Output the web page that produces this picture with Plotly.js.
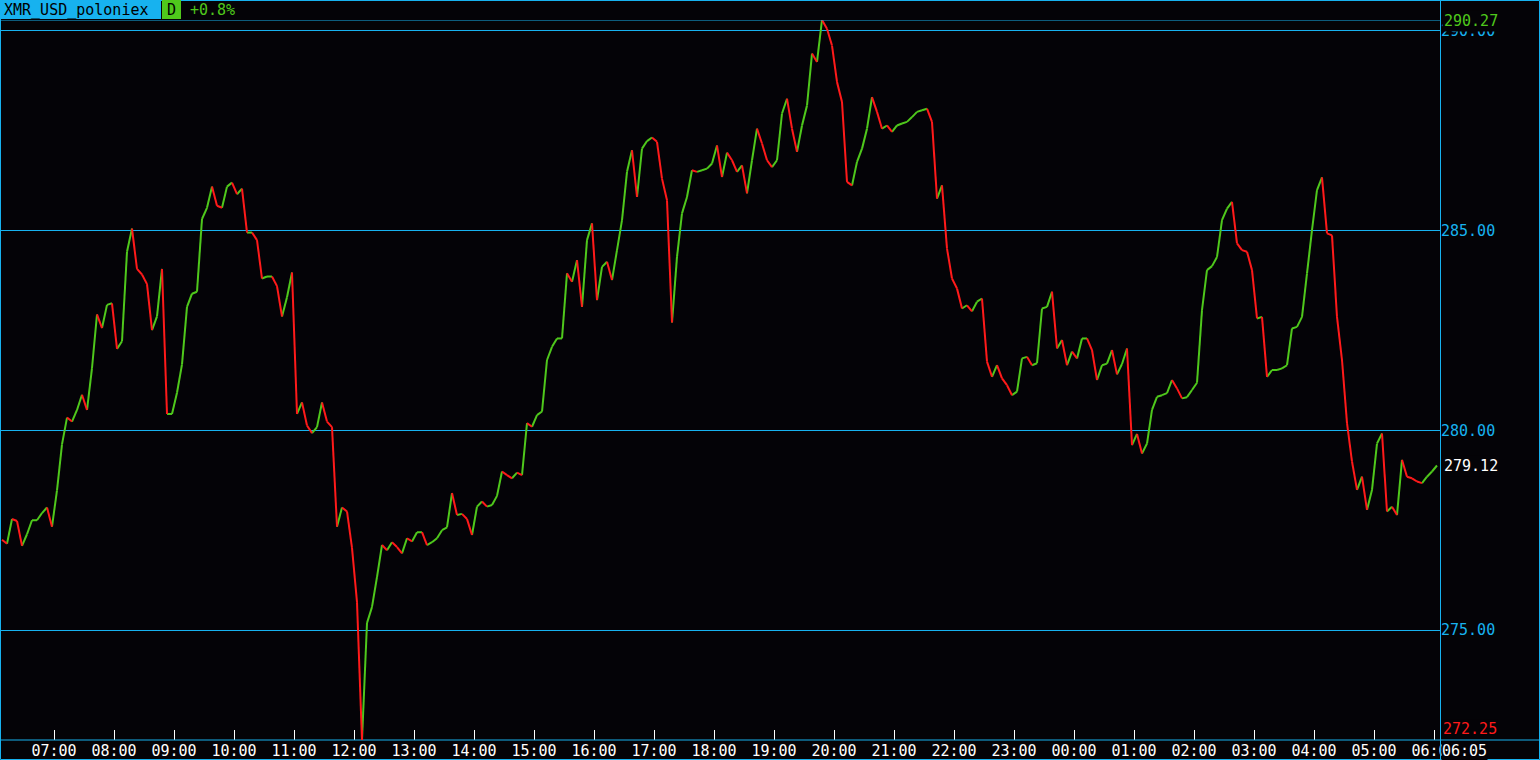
<!DOCTYPE html>
<html>
<head>
<meta charset="utf-8">
<script src="https://cdn.plot.ly/plotly-3.0.1.min.js"></script>
<style>
html,body{margin:0;padding:0;background:#040307;}
#chart{width:1540px;height:760px;}
</style>
</head>
<body>
<div id="chart"></div>
<script>
// ---- data ----
const symbol = "XMR_USD_poloniex";
const periodLabel = "D";
const changeLabel = "+0.8%";
const startTime = "2018-05-01 06:08";   // first sample time
const stepMinutes = 5;                   // sample interval
const rangeStart = "2018-05-01 06:06";
const rangeEnd = "2018-05-02 06:06";
const lastTimeLabel = "06:05";
const priceTicks = [275, 280, 285, 290];
const closes = [
  277.26, 277.16, 277.78, 277.73, 277.11, 277.40, 277.75, 277.75, 277.93, 278.07,
  277.59, 278.50, 279.65, 280.32, 280.22, 280.51, 280.89, 280.51, 281.56, 282.90,
  282.56, 283.14, 283.18, 282.04, 282.23, 284.47, 285.05, 284.04, 283.90, 283.66,
  282.51, 282.85, 284.04, 280.41, 280.41, 280.94, 281.65, 283.09, 283.42, 283.47,
  285.29, 285.57, 286.10, 285.62, 285.57, 286.10, 286.20, 285.91, 286.05, 284.95,
  284.95, 284.76, 283.80, 283.85, 283.85, 283.61, 282.85, 283.33, 283.95, 280.41,
  280.70, 280.12, 279.93, 280.08, 280.70, 280.22, 280.08, 277.59, 278.07, 277.97,
  277.06, 275.70, 272.25, 275.18, 275.58, 276.33, 277.13, 277.00, 277.20, 277.08,
  276.92, 277.30, 277.22, 277.45, 277.45, 277.13, 277.20, 277.30, 277.50, 277.57,
  278.43, 277.88, 277.91, 277.78, 277.38, 278.09, 278.22, 278.09, 278.13, 278.36,
  278.97, 278.88, 278.80, 278.94, 278.88, 280.18, 280.09, 280.38, 280.47, 281.76,
  282.09, 282.30, 282.30, 283.93, 283.72, 284.26, 283.09, 284.76, 285.18, 283.26,
  284.09, 284.22, 283.76, 284.51, 285.26, 286.47, 287.01, 285.84, 287.05, 287.24,
  287.33, 287.22, 286.30, 285.76, 282.70, 284.34, 285.43, 285.84, 286.51, 286.47,
  286.51, 286.55, 286.68, 287.13, 286.34, 286.95, 286.76, 286.47, 286.63, 285.93,
  286.76, 287.55, 287.18, 286.76, 286.59, 286.76, 287.93, 288.30, 287.55, 286.97,
  287.63, 288.13, 289.43, 289.22, 290.27, 290.05, 289.63, 288.72, 288.22, 286.22,
  286.13, 286.72, 287.05, 287.55, 288.34, 287.97, 287.55, 287.63, 287.47, 287.63,
  287.68, 287.72, 287.84, 287.97, 288.01, 288.05, 287.72, 285.80, 286.13, 284.55,
  283.80, 283.55, 283.05, 283.13, 282.98, 283.22, 283.30, 281.72, 281.34, 281.63,
  281.30, 281.13, 280.88, 280.97, 281.80, 281.84, 281.63, 281.68, 283.05, 283.09,
  283.47, 282.05, 282.26, 281.63, 281.97, 281.80, 282.30, 282.30, 282.01, 281.26,
  281.63, 281.67, 282.01, 281.40, 281.66, 282.05, 279.63, 279.91, 279.42, 279.67,
  280.51, 280.84, 280.88, 280.93, 281.26, 281.05, 280.80, 280.83, 281.01, 281.19,
  283.01, 284.01, 284.11, 284.34, 285.26, 285.55, 285.72, 284.68, 284.51, 284.47,
  284.01, 282.80, 282.84, 281.34, 281.51, 281.51, 281.55, 281.63, 282.55, 282.59,
  282.84, 283.93, 285.01, 286.01, 286.33, 284.93, 284.88, 282.84, 281.76, 280.18,
  279.22, 278.51, 278.84, 278.01, 278.51, 279.67, 279.92, 277.97, 278.09, 277.88,
  279.26, 278.84, 278.80, 278.72, 278.68, 278.84, 278.97, 279.12
];

// ---- styles ----
const GREEN = "#4fc81c";
const RED = "#ff1a1a";
const CYAN = "#17b2ef";
const BG = "#040307";
const WHITE = "#ffffff";
const FONT = "DejaVu Sans Mono, monospace";
const FS = 15;

const W = 1540, H = 760, ML = 0, MR = 100, MT = 20, MB = 20;
const PW = W - ML - MR, PH = H - MT - MB;
const px = x => (x - ML) / PW;
const py = y => 1 - (y - MT) / PH;

function fmt(d) {
  const p = n => String(n).padStart(2, "0");
  return d.getFullYear() + "-" + p(d.getMonth() + 1) + "-" + p(d.getDate()) + " " + p(d.getHours()) + ":" + p(d.getMinutes());
}
const t0 = new Date(startTime.replace(" ", "T"));
const times = closes.map((_, i) => fmt(new Date(t0.getTime() + i * stepMinutes * 60000)));

// build up / down segments
const gx = [], gy = [], rx = [], ry = [];
for (let i = 1; i < closes.length; i++) {
  const up = closes[i] >= closes[i - 1];
  const X = up ? gx : rx, Y = up ? gy : ry;
  X.push(times[i - 1], times[i], null);
  Y.push(closes[i - 1], closes[i], null);
}

const maxV = Math.max(...closes), minV = Math.min(...closes);
const minIdx = closes.indexOf(minV);
const lastV = closes[closes.length - 1];

const traces = [
  {x: gx, y: gy, type: "scatter", mode: "lines", line: {color: GREEN, width: 2}, hoverinfo: "skip", connectgaps: false},
  {x: rx, y: ry, type: "scatter", mode: "lines", line: {color: RED, width: 2}, hoverinfo: "skip", connectgaps: false}
];

const shapes = [
  {type: "line", xref: "paper", yref: "y", x0: 0, x1: 1, y0: maxV, y1: maxV, line: {color: CYAN, width: 1}},
  {type: "line", xref: "paper", yref: "paper", x0: px(1440.5), x1: px(1440.5), y0: py(H), y1: py(0), line: {color: CYAN, width: 1}},
  {type: "line", xref: "paper", yref: "paper", x0: px(0), x1: px(W), y0: 0, y1: 0, line: {color: CYAN, width: 1}},
  {type: "rect", xref: "paper", yref: "paper", x0: px(0.5), x1: px(W - 0.5), y0: py(H - 0.5), y1: py(0.5), line: {color: CYAN, width: 1}},
  {type: "rect", xref: "paper", yref: "paper", x0: px(0), x1: px(161), y0: py(19), y1: py(0), fillcolor: CYAN, line: {width: 0}},
  {type: "rect", xref: "paper", yref: "paper", x0: px(162), x1: px(181), y0: py(19), y1: py(0), fillcolor: GREEN, line: {width: 0}},
  {type: "line", xref: "x", yref: "paper", x0: times[minIdx], x1: times[minIdx], y0: 0, y1: 10 / PH, line: {color: RED, width: 2}}
];

const annotations = [
  {xref: "paper", yref: "paper", x: px(2), y: py(10), xanchor: "left", yanchor: "middle", showarrow: false,
   text: symbol, font: {family: FONT, size: FS, color: "#000"}},
  {xref: "paper", yref: "paper", x: px(171.5), y: py(10), xanchor: "center", yanchor: "middle", showarrow: false,
   text: periodLabel, font: {family: FONT, size: FS, color: "#000"}},
  {xref: "paper", yref: "paper", x: px(188), y: py(10), xanchor: "left", yanchor: "middle", showarrow: false,
   text: changeLabel, font: {family: FONT, size: FS, color: GREEN}},
  {xref: "paper", yref: "y", x: px(1442), y: maxV, xanchor: "left", yanchor: "middle", showarrow: false,
   text: maxV.toFixed(2), font: {family: FONT, size: FS, color: GREEN}, bgcolor: BG, borderpad: 1, yshift: -1},
  {xref: "paper", yref: "y", x: px(1442), y: lastV, xanchor: "left", yanchor: "middle", showarrow: false,
   text: lastV.toFixed(2), font: {family: FONT, size: FS, color: WHITE}, bgcolor: BG, borderpad: 1},
  {xref: "paper", yref: "y", x: px(1442), y: minV, xanchor: "left", yanchor: "bottom", showarrow: false,
   text: minV.toFixed(2), font: {family: FONT, size: FS, color: RED}, bgcolor: BG, borderpad: 0, yshift: 1},
  {xref: "paper", yref: "paper", x: px(1441), y: 0, xanchor: "left", yanchor: "top", showarrow: false,
   text: lastTimeLabel, font: {family: FONT, size: FS, color: WHITE}, bgcolor: BG, borderpad: 0, yshift: -1}
];

const layout = {
  width: W, height: H,
  margin: {l: ML, r: MR, t: MT, b: MB, pad: 0},
  paper_bgcolor: BG, plot_bgcolor: BG,
  showlegend: false,
  xaxis: {
    type: "date", range: [rangeStart, rangeEnd],
    dtick: 3600000, tick0: "2018-05-01 00:00", tickformat: "%H:%M",
    ticks: "inside", ticklen: 10, tickwidth: 1, tickcolor: WHITE,
    showgrid: false, zeroline: false, showline: false,
    tickfont: {family: FONT, size: FS, color: WHITE},
    fixedrange: true
  },
  yaxis: {
    side: "right", range: [minV, maxV],
    tickmode: "array", tickvals: priceTicks, ticktext: priceTicks.map(v => v.toFixed(2)),
    showgrid: true, gridcolor: CYAN, gridwidth: 1,
    zeroline: false, showline: false, ticks: "",
    tickfont: {family: FONT, size: FS, color: CYAN},
    fixedrange: true
  },
  shapes: shapes,
  annotations: annotations
};

Plotly.newPlot("chart", traces, layout, {displayModeBar: false, staticPlot: true});
</script>
</body>
</html>
